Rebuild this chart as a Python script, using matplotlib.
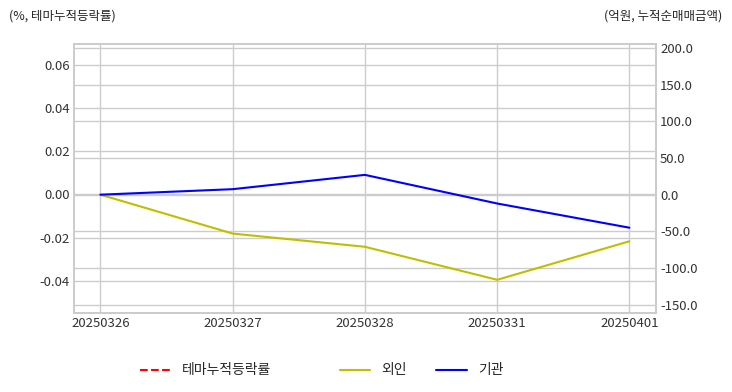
import numpy as np
import matplotlib
matplotlib.use("Agg")
import matplotlib.pyplot as plt

plt.style.use("seaborn-v0_8-whitegrid")
plt.rcParams['font.family'] = ['Noto Sans CJK KR', 'DejaVu Sans']
plt.rcParams['axes.unicode_minus'] = False

dates = ["20250326", "20250327", "20250328", "20250331", "20250401"]
theme_ret = [np.nan, np.nan, np.nan, np.nan, np.nan]
foreign = [0.0, -53.0, -71.0, -116.0, -63.5]
institution = [0.0, 7.5, 27.0, -12.0, -45.0]

fig = plt.figure(figsize=(7.32, 3.92), dpi=100)
ax1 = fig.add_axes([0.101, 0.202, 0.795, 0.686])
ax2 = ax1.twinx()

x = np.arange(len(dates))
l1, = ax1.plot(x, theme_ret, color='r', linestyle='--', linewidth=1.5, label='테마누적등락률')
l2, = ax2.plot(x, foreign, color='y', linewidth=1.5, label='외인')
l3, = ax2.plot(x, institution, color='b', linewidth=1.5, label='기관')

ax1.set_xlim(-0.2, 4.2)
ax1.set_xticks(x)
ax1.set_xticklabels(dates)
ax1.set_ylim(-0.055, 0.07)
ax1.set_yticks([-0.04, -0.02, 0.0, 0.02, 0.04, 0.06])
ax1.set_yticklabels(["-0.04", "-0.02", "0.00", "0.02", "0.04", "0.06"])
ax2.set_ylim(-161, 205.5)
ax2.set_yticks([-150, -100, -50, 0, 50, 100, 150, 200])
ax2.set_yticklabels([f"{v:.1f}" for v in [-150, -100, -50, 0, 50, 100, 150, 200]])

for ax in (ax1, ax2):
    ax.tick_params(axis='both', length=0, labelsize=9.5, colors='#333333', pad=3)
    ax.grid(True, color='#cccccc', linewidth=1.0)
    for s in ax.spines.values():
        s.set_visible(True)
        s.set_color('#cccccc')
        s.set_linewidth(1.25)
ax2.grid(True, axis='y', color='#cccccc', linewidth=1.0)
ax2.grid(False, axis='x')

fig.text(0.012, 0.96, "(%, 테마누적등락률)", fontsize=9, color='#262626', ha='left', va='center')
fig.text(0.987, 0.96, "(억원, 누적순매매금액)", fontsize=9, color='#262626', ha='right', va='center')

leg1 = fig.legend(handles=[l1], loc='center left', bbox_to_anchor=(0.174, 0.055),
                  frameon=False, fontsize=10, handlelength=2.2)
leg2 = fig.legend(handles=[l2, l3], loc='center left', bbox_to_anchor=(0.447, 0.055),
                  frameon=False, fontsize=10, ncol=2, handlelength=2.2, columnspacing=2.1)

fig.savefig("out.png", dpi=100)
